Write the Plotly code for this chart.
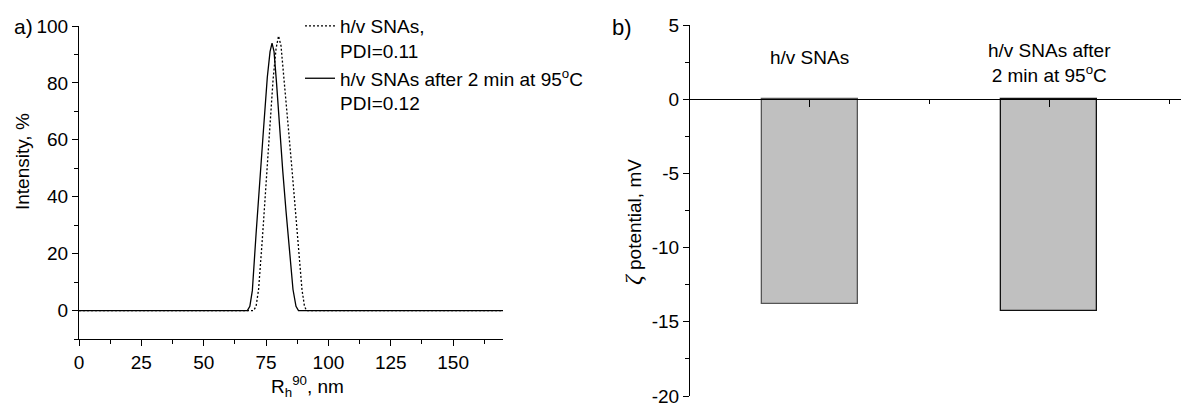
import plotly.graph_objects as go

# ---------------- data ----------------
# panel a: size distributions (R_h^90, nm vs intensity, %)
before_x = [0, 70, 71, 72, 73.5, 75, 76.4, 77.8, 79, 80, 81, 82.2, 84, 85.5, 87, 88.4, 89.4, 90.4, 91.2, 170]
before_y = [0, 0, 1.5, 7.4, 25, 45, 63.5, 81, 92, 96.5, 93, 82, 63.5, 48.5, 33, 17.5, 7.4, 1.5, 0, 0]
after_x = [0, 67.5, 68.5, 69.5, 71, 72.5, 74, 75.5, 76.6, 77.4, 78.2, 79.2, 80.4, 81.7, 83, 84.4, 85.8, 87, 88, 170]
after_y = [0, 0, 1.5, 7, 27, 47, 64, 82, 91, 94, 91, 80, 63.5, 49, 35, 20, 7.4, 1.5, 0, 0]
legend_names = ["h/v SNAs,<br>PDI=0.11", "h/v SNAs after 2 min at 95<sup>o</sup>C<br>PDI=0.12"]

# panel b: zeta potential
categories = ["h/v SNAs", "h/v SNAs after<br>2 min at 95<sup>o</sup>C"]
zeta = [-13.8, -14.3]

a_xticks = [0, 25, 50, 75, 100, 125, 150]
a_yticks = [0, 20, 40, 60, 80, 100]
b_yticks = [5, 0, -5, -10, -15, -20]
b_yticklabels = ["5", "0", "-5", "-10", "-15", "-20"]

# ---------------- figure ----------------
W, H = 1181, 403
FONT = "Liberation Sans, Arial, sans-serif"
FS = 19

def px(x):
    return x / W

def py(y):
    return 1 - y / H

fig = go.Figure()

fig.add_trace(go.Scatter(x=before_x, y=before_y, mode="lines", name=legend_names[0],
                         line=dict(color="black", width=1.3, dash="2px,2px"),
                         xaxis="x", yaxis="y"))
fig.add_trace(go.Scatter(x=after_x, y=after_y, mode="lines", name=legend_names[1],
                         line=dict(color="black", width=1.3),
                         xaxis="x", yaxis="y"))

bar_x = list(range(1, len(categories) + 1))
fig.add_trace(go.Bar(x=bar_x, y=zeta, width=0.4, showlegend=False,
                     marker=dict(color="#c0c0c0", line=dict(color=["#555555", "#111111"], width=1.3)),
                     xaxis="x2", yaxis="y2"))

axis_common = dict(showgrid=False, zeroline=False, showline=True, linecolor="black",
                   linewidth=1.2, ticks="outside", tickcolor="black", tickwidth=1.2,
                   automargin=False, ticklabeloverflow="allow",
                   tickfont=dict(family=FONT, size=FS, color="black"))
minor_common = dict(ticks="outside", tickcolor="black", tickwidth=1.2, ticklen=4, showgrid=False)

y2_dom = [py(396), py(25)]
y2_range = [-20, 5]
zero_pos = y2_dom[0] + (0 - y2_range[0]) / (y2_range[1] - y2_range[0]) * (y2_dom[1] - y2_dom[0])

fig.update_layout(
    template="none",
    width=W, height=H,
    margin=dict(l=0, r=0, t=0, b=0, pad=0),
    paper_bgcolor="white", plot_bgcolor="rgba(0,0,0,0)",
    font=dict(family=FONT, size=FS, color="black"),
    bargap=0,
    xaxis=dict(domain=[px(79), px(503)], range=[0, 170], anchor="y",
               tickmode="array", tickvals=a_xticks, ticklen=6,
               minor=dict(dtick=12.5, tick0=0, **minor_common),
               **axis_common),
    yaxis=dict(domain=[py(339), py(26)], range=[-10, 100], anchor="x",
               tickmode="array", tickvals=a_yticks, ticklen=6,
               minor=dict(dtick=10, tick0=0, **minor_common),
               **axis_common),
    xaxis2=dict(domain=[px(690), px(1181)], range=[0.5, 2.55], anchor="free", position=zero_pos,
                tickmode="array", tickvals=bar_x, showticklabels=False, ticklen=7,
                minor=dict(tickmode="array", tickvals=[1.5, 2.5], **minor_common),
                **axis_common),
    yaxis2=dict(domain=y2_dom, range=y2_range, anchor="x2",
                tickmode="array", tickvals=b_yticks, ticktext=b_yticklabels, ticklen=6,
                minor=dict(dtick=2.5, tick0=0, **minor_common),
                **axis_common),
    legend=dict(x=px(300), y=py(7), xanchor="left", yanchor="top", valign="top",
                bgcolor="rgba(0,0,0,0)", borderwidth=0, tracegroupgap=0,
                font=dict(family=FONT, size=FS, color="black")),
)

ann = []
ann.append(dict(text="a)", x=px(23), y=py(27), xref="paper", yref="paper", showarrow=False,
                font=dict(size=21), xanchor="center", yanchor="middle"))
ann.append(dict(text="b)", x=px(622), y=py(28), xref="paper", yref="paper", showarrow=False,
                font=dict(size=22), xanchor="center", yanchor="middle"))
ann.append(dict(text="Intensity, %", x=px(22), y=py(162), xref="paper", yref="paper", showarrow=False,
                textangle=-90, xanchor="center", yanchor="middle"))
ann.append(dict(text="R<sub>h</sub><sup>90</sup>, nm", x=px(307), y=py(386), xref="paper", yref="paper",
                showarrow=False, xanchor="center", yanchor="middle"))
ann.append(dict(text="<span style=\"font-family:Liberation Serif;font-size:24px\"><i>\u03b6</i></span> potential, mV",
                x=px(633), y=py(222), xref="paper", yref="paper",
                showarrow=False, textangle=-90, xanchor="center", yanchor="middle"))
label_y = [2.83, 2.45]
for xi, cat, ly in zip(bar_x, categories, label_y):
    ann.append(dict(text=cat, x=xi, y=ly, xref="x2", yref="y2", showarrow=False,
                    xanchor="center", yanchor="middle"))
fig.update_layout(annotations=ann)

fig.write_html(
    "out.html",
    config={"displayModeBar": False},
    post_script="document.body.style.margin='0';document.body.style.padding='0';document.body.style.overflow='hidden';",
)
